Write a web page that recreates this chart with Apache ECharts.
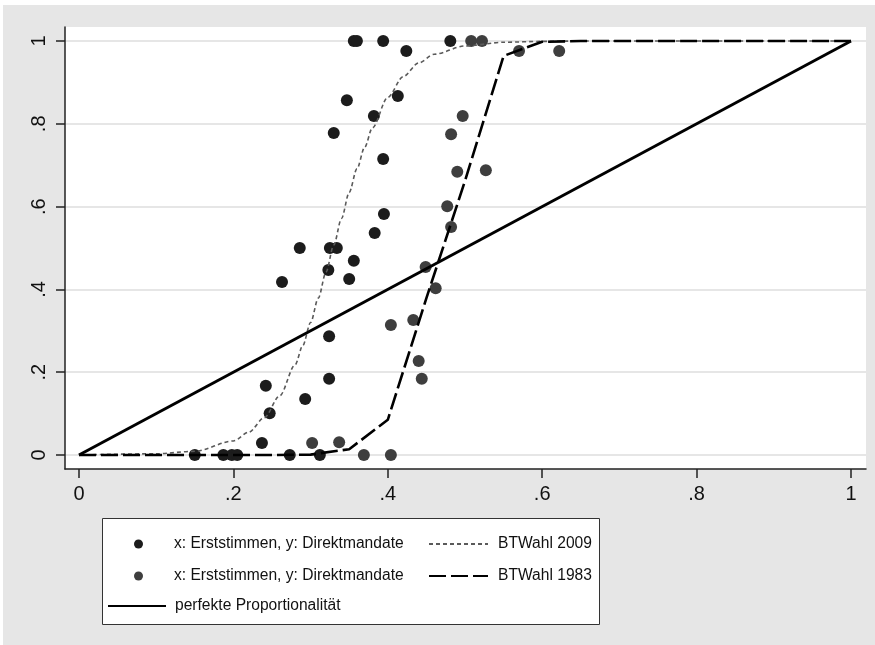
<!DOCTYPE html>
<html><head><meta charset="utf-8">
<script src="https://cdn.jsdelivr.net/npm/echarts@6/dist/echarts.min.js"></script>
<style>html,body{margin:0;padding:0;background:#fff}#c{width:875px;height:645px}</style>
</head><body><div id="c"></div><script>
const xTicks = [0, 0.2, 0.4, 0.6, 0.8, 1];
const yTicks = [0, 0.2, 0.4, 0.6, 0.8, 1];
const tickLabels = ['0', '.2', '.4', '.6', '.8', '1'];
const nameScatter = 'x: Erststimmen, y: Direktmandate';
const name2009 = 'BTWahl 2009';
const name1983 = 'BTWahl 1983';
const nameProp = 'perfekte Proportionalität';

// 2009 constituency points (dark)
const darkX = [0.356, 0.360, 0.394, 0.481, 0.424, 0.347, 0.413, 0.382, 0.330, 0.394, 0.395, 0.383, 0.286, 0.325, 0.334, 0.356, 0.323, 0.350, 0.263, 0.324, 0.324, 0.242, 0.293, 0.247, 0.237, 0.150, 0.187, 0.198, 0.205, 0.273, 0.312];
const darkY = [1, 1, 1, 1, 0.976, 0.857, 0.867, 0.819, 0.778, 0.715, 0.582, 0.536, 0.5, 0.5, 0.5, 0.469, 0.447, 0.425, 0.418, 0.287, 0.184, 0.167, 0.135, 0.101, 0.029, 0, 0, 0, 0, 0, 0];
// 1983 points (gray)
const grayX = [0.508, 0.522, 0.570, 0.622, 0.497, 0.482, 0.490, 0.527, 0.477, 0.482, 0.449, 0.462, 0.433, 0.404, 0.440, 0.444, 0.302, 0.337, 0.369, 0.404];
const grayY = [1, 1, 0.976, 0.976, 0.819, 0.775, 0.684, 0.688, 0.601, 0.551, 0.454, 0.403, 0.326, 0.314, 0.227, 0.184, 0.029, 0.031, 0, 0];
// BTWahl 2009 curve
const c09X = [0, 0.10, 0.15, 0.20, 0.22, 0.24, 0.26, 0.28, 0.29, 0.30, 0.31, 0.32, 0.33, 0.34, 0.35, 0.36, 0.37, 0.38, 0.40, 0.42, 0.44, 0.46, 0.50, 0.55, 0.60, 0.65, 1];
const c09Y = [0, 0.003, 0.009, 0.034, 0.055, 0.090, 0.143, 0.218, 0.265, 0.320, 0.379, 0.442, 0.507, 0.571, 0.634, 0.691, 0.743, 0.790, 0.864, 0.914, 0.947, 0.968, 0.988, 0.997, 0.999, 1, 1];
// BTWahl 1983 curve
const c83X = [0, 0.05, 0.10, 0.15, 0.20, 0.25, 0.30, 0.35, 0.40, 0.45, 0.50, 0.55, 0.60, 0.65, 0.70, 0.75, 0.80, 0.85, 0.90, 0.95, 1];
const c83Y = [0, 0, 0, 0, 0, 0, 0.001, 0.014, 0.085, 0.379, 0.662, 0.964, 0.998, 1, 1, 1, 1, 1, 1, 1, 1];
// perfect proportionality
const propX = [0, 1];
const propY = [0, 1];

const zip = (a, b) => a.map((v, i) => [v, b[i]]);
const FONT = "'Liberation Sans', Arial, sans-serif";
const nameScatter2 = nameScatter + '\u200b';

const chart = echarts.init(document.getElementById('c'), null, {renderer: 'canvas'});
const legendText = pad => ({fontFamily: FONT, fontSize: 15.6, color: '#111', padding: [0, 0, 0, pad]});
const legendBase = {
  orient: 'horizontal', padding: 0, itemGap: 0, selectedMode: false,
  formatter: n => n.replace('\u200b', '')
};
chart.setOption({
  backgroundColor: '#ffffff',
  animation: false,
  graphic: [
    {type: 'rect', z: -10, shape: {x: 3, y: 5, width: 872, height: 640}, style: {fill: '#e6e6e6'}},
    {type: 'rect', z: 1, shape: {x: 102.5, y: 518.5, width: 497, height: 106}, style: {fill: '#fff', stroke: '#333', lineWidth: 1}}
  ],
  grid: {left: 65, right: 9, top: 27, bottom: 176, show: true, backgroundColor: '#fff', borderWidth: 0},
  xAxis: {
    type: 'value', min: -0.0181, max: 1.0194,
    axisLine: {show: true, onZero: false, lineStyle: {color: '#222', width: 1.5}},
    axisTick: {show: true, length: 9, customValues: xTicks, lineStyle: {color: '#222', width: 1.5}},
    axisLabel: {customValues: xTicks, margin: 15, fontFamily: FONT, fontSize: 20, color: '#111',
      formatter: v => tickLabels[xTicks.findIndex(t => Math.abs(t - v) < 1e-6)]},
    splitLine: {show: false}
  },
  yAxis: {
    type: 'value', min: -0.0338, max: 1.0338,
    axisLine: {show: true, onZero: false, lineStyle: {color: '#222', width: 1.5}},
    axisTick: {show: true, length: 9, customValues: yTicks, lineStyle: {color: '#222', width: 1.5}},
    axisLabel: {customValues: yTicks, rotate: 90, margin: 16, fontFamily: FONT, fontSize: 20, color: '#111',
      formatter: v => tickLabels[yTicks.findIndex(t => Math.abs(t - v) < 1e-6)]},
    splitLine: {show: true, lineStyle: {color: '#e6e6e6', width: 2}}
  },
  legend: [
    Object.assign({}, legendBase, {data: [{name: nameScatter, icon: 'circle'}], left: 134, top: 536, itemWidth: 9, itemHeight: 10, textStyle: legendText(26)}),
    Object.assign({}, legendBase, {data: [{name: nameScatter2, icon: 'circle'}], left: 134, top: 568, itemWidth: 9, itemHeight: 10, textStyle: legendText(26)}),
    Object.assign({}, legendBase, {data: [name2009], left: 428, top: 536, itemWidth: 59, itemHeight: 10, itemStyle: {opacity: 0, borderWidth: 0}, textStyle: legendText(5)}),
    Object.assign({}, legendBase, {data: [name1983], left: 428, top: 568, itemWidth: 59, itemHeight: 10, itemStyle: {opacity: 0, borderWidth: 0}, textStyle: legendText(5)}),
    Object.assign({}, legendBase, {data: [nameProp], left: 107, top: 598, itemWidth: 58, itemHeight: 10, itemStyle: {opacity: 0, borderWidth: 0}, textStyle: legendText(4)})
  ],
  series: [
    {name: nameScatter, type: 'scatter', data: zip(darkX, darkY), symbolSize: 12, itemStyle: {color: '#1c1c1c', opacity: 1}},
    {name: nameScatter2, type: 'scatter', data: zip(grayX, grayY), symbolSize: 12, itemStyle: {color: '#3e3e3e', opacity: 1}},
    {name: name2009, type: 'line', data: zip(c09X, c09Y), showSymbol: false, symbol: 'none', smooth: 0.3, smoothMonotone: 'x',
      itemStyle: {color: '#5a5a5a'}, lineStyle: {color: '#5a5a5a', width: 1.6, type: [4, 3]}},
    {name: name1983, type: 'line', data: zip(c83X, c83Y), showSymbol: false, symbol: 'none',
      itemStyle: {color: '#000'}, lineStyle: {color: '#000', width: 2.6, type: [17, 5]}},
    {name: nameProp, type: 'line', data: zip(propX, propY), showSymbol: false, symbol: 'none',
      itemStyle: {color: '#000'}, lineStyle: {color: '#000', width: 3}}
  ]
});
</script></body></html>
